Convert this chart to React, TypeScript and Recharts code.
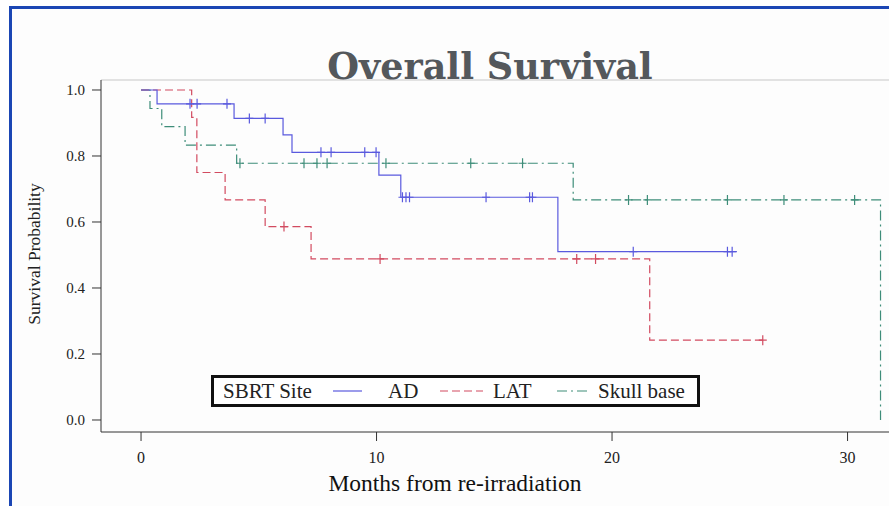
/** Kaplan-Meier style step chart: overall survival by SBRT site. */

import { LineChart, Line, XAxis, YAxis, ReferenceLine } from "recharts";

// AD (solid blue)
const AD_STEP_TIMES = [0, 0.68, 3.95, 6.03, 6.41, 10.1, 11.03, 17.7];
const AD_STEP_SURV = [1.0, 0.958, 0.914, 0.864, 0.811, 0.742, 0.675, 0.51];
const AD_CENSOR_TIMES = [
  2.08, 2.38, 3.65, 4.6, 5.27, 7.64, 8.07, 9.5, 9.98, 11.1, 11.25, 11.4, 14.65,
  16.5, 16.62, 20.9, 24.9, 25.1,
];
const AD_END = 25.3;

// LAT (dashed red)
const LAT_STEP_TIMES = [0, 2.15, 2.37, 3.57, 5.27, 7.22, 21.6];
const LAT_STEP_SURV = [1.0, 0.917, 0.75, 0.667, 0.586, 0.488, 0.242];
const LAT_CENSOR_TIMES = [6.07, 10.15, 18.5, 19.3, 26.4];

// Skull base (dash-dot green)
const SKULL_STEP_TIMES = [0, 0.38, 0.88, 1.87, 4.06, 18.35, 31.4];
const SKULL_STEP_SURV = [1.0, 0.944, 0.889, 0.833, 0.778, 0.667, 0.0];
const SKULL_CENSOR_TIMES = [
  4.2, 6.92, 7.47, 7.9, 10.4, 14.0, 16.2, 20.7, 21.5, 24.9, 27.3, 30.3,
];

const X_TICKS = [0, 10, 20, 30];
const Y_TICKS = [0, 0.2, 0.4, 0.6, 0.8, 1.0];

const X_DOMAIN: [number, number] = [-1.7, 31.76];
const Y_DOMAIN: [number, number] = [-0.0364, 1.0303];

const BLUE = "#5a5ade";
const RED = "#d24b60";
const GREEN = "#3e8d79";
const SERIF = "'Liberation Serif', 'DejaVu Serif', serif";

type Pt = { t: number; s: number; censored: boolean };

function survAt(times: number[], surv: number[], t: number) {
  let s = surv[0];
  for (let i = 0; i < times.length; i++) if (times[i] <= t) s = surv[i];
  return s;
}

// merge step points and censor marks into one sorted list
function buildSeries(
  times: number[],
  surv: number[],
  censors: number[],
  end?: number
): Pt[] {
  const pts: Pt[] = times.map((t, i) => ({ t, s: surv[i], censored: false }));
  censors.forEach((t) =>
    pts.push({ t, s: survAt(times, surv, t), censored: true })
  );
  if (end !== undefined && !pts.some((p) => p.t === end)) {
    pts.push({ t: end, s: survAt(times, surv, end), censored: false });
  }
  return pts.sort((a, b) => a.t - b.t);
}

const adData = buildSeries(AD_STEP_TIMES, AD_STEP_SURV, AD_CENSOR_TIMES, AD_END);
const latData = buildSeries(LAT_STEP_TIMES, LAT_STEP_SURV, LAT_CENSOR_TIMES);
const skullData = buildSeries(SKULL_STEP_TIMES, SKULL_STEP_SURV, SKULL_CENSOR_TIMES);

const censorDot = (color: string) => (props: any) => {
  const { cx, cy, payload, index } = props;
  if (!payload || !payload.censored) return <g key={`n-${index}`} />;
  return (
    <path
      key={`c-${index}`}
      d={`M${cx - 4},${cy}h8M${cx},${cy - 5}v10`}
      stroke={color}
      strokeWidth={1.2}
      fill="none"
    />
  );
};

export default function App() {
  return (
    <div
      style={{
        position: "absolute",
        left: 0,
        top: 0,
        width: 889,
        height: 506,
        overflow: "hidden",
        background: "#ffffff",
      }}
    >
      <div
        style={{
          position: "absolute",
          left: 9,
          top: 6,
          width: 880,
          height: 500,
          boxSizing: "border-box",
          borderLeft: "3px solid #1b46b4",
          borderTop: "3px solid #1b46b4",
          background: "#fdfdfd",
        }}
      />
      <div style={{ position: "absolute", left: 0, top: 0 }}>
        <LineChart
          width={889}
          height={506}
          margin={{ top: 80, right: 0, bottom: 44, left: 0 }}
          style={{ fontFamily: SERIF }}
        >
          <XAxis
            type="number"
            dataKey="t"
            domain={X_DOMAIN}
            allowDataOverflow
            ticks={X_TICKS}
            height={30}
            tickSize={9}
            tickMargin={11}
            stroke="#333"
            tick={{ fill: "#222", fontSize: 16, fontFamily: SERIF }}
          />
          <YAxis
            type="number"
            dataKey="s"
            domain={Y_DOMAIN}
            allowDataOverflow
            ticks={Y_TICKS}
            width={101}
            tickSize={9}
            tickMargin={7}
            stroke="#333"
            tickFormatter={(v: number) => v.toFixed(1)}
            tick={{ fill: "#222", fontSize: 15, fontFamily: SERIF }}
          />
          <ReferenceLine y={Y_DOMAIN[1]} stroke="#d9d9d9" strokeWidth={1.5} />
          <Line
            data={skullData}
            dataKey="s"
            type="stepAfter"
            stroke={GREEN}
            strokeWidth={1.2}
            strokeDasharray="10 4 2 4"
            dot={censorDot(GREEN)}
            activeDot={false}
            isAnimationActive={false}
          />
          <Line
            data={latData}
            dataKey="s"
            type="stepAfter"
            stroke={RED}
            strokeWidth={1.2}
            strokeDasharray="8 4"
            dot={censorDot(RED)}
            activeDot={false}
            isAnimationActive={false}
          />
          <Line
            data={adData}
            dataKey="s"
            type="stepAfter"
            stroke={BLUE}
            strokeWidth={1.2}
            dot={censorDot(BLUE)}
            activeDot={false}
            isAnimationActive={false}
          />
        </LineChart>
      </div>
      <svg
        width={889}
        height={506}
        style={{ position: "absolute", left: 0, top: 0, pointerEvents: "none" }}
      >
        <text
          x={490}
          y={79}
          textAnchor="middle"
          fontFamily="'DejaVu Serif', serif"
          fontWeight="bold"
          fontSize={36.5}
          fill="#54585c"
        >
          Overall Survival
        </text>
        <text
          transform="translate(40,254) rotate(-90)"
          textAnchor="middle"
          fontFamily={SERIF}
          fontSize={17.5}
          fill="#222"
        >
          Survival Probability
        </text>
        <text
          x={455}
          y={491}
          textAnchor="middle"
          fontFamily={SERIF}
          fontSize={23.5}
          fill="#111"
        >
          Months from re-irradiation
        </text>
        <g fontFamily={SERIF} fontSize={21} fill="#222">
          <rect
            x={212.5}
            y={376.5}
            width={486}
            height={29}
            fill="#fff"
            stroke="#111"
            strokeWidth={3}
          />
          <text x={223} y={398}>SBRT Site</text>
          <line x1={333} x2={362} y1={391} y2={391} stroke={BLUE} strokeWidth={1.2} />
          <text x={388} y={398}>AD</text>
          <line
            x1={440}
            x2={483}
            y1={391}
            y2={391}
            stroke={RED}
            strokeWidth={1.2}
            strokeDasharray="8 4"
          />
          <text x={493} y={398}>LAT</text>
          <line
            x1={557}
            x2={588}
            y1={391}
            y2={391}
            stroke={GREEN}
            strokeWidth={1.2}
            strokeDasharray="10 4 2 4"
          />
          <text x={598} y={398}>Skull base</text>
        </g>
      </svg>
    </div>
  );
}
